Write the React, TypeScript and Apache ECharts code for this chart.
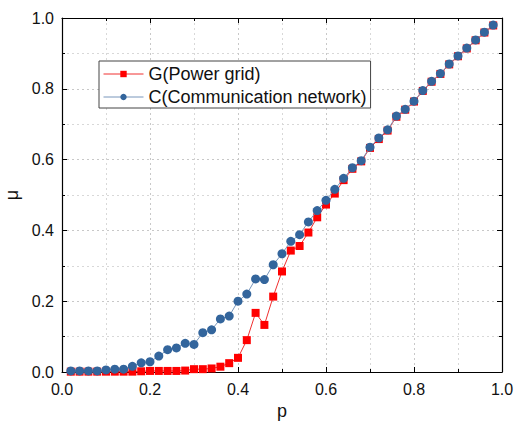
import React, { useEffect, useRef } from "react";
import * as echarts from "echarts";

const pValues = [
  0.02, 0.04, 0.06, 0.08, 0.1, 0.12, 0.14, 0.16, 0.18, 0.2,
  0.22, 0.24, 0.26, 0.28, 0.3, 0.32, 0.34, 0.36, 0.38, 0.4,
  0.42, 0.44, 0.46, 0.48, 0.5, 0.52, 0.54, 0.56, 0.58, 0.6,
  0.62, 0.64, 0.66, 0.68, 0.7, 0.72, 0.74, 0.76, 0.78, 0.8,
  0.82, 0.84, 0.86, 0.88, 0.9, 0.92, 0.94, 0.96, 0.98,
];

const gPowerGrid = [
  0.001, 0.001, 0.001, 0.001, 0.001, 0.001, 0.001, 0.001, 0.002, 0.003,
  0.003, 0.003, 0.003, 0.004, 0.008, 0.008, 0.01, 0.015, 0.025, 0.04,
  0.09, 0.167, 0.133, 0.213, 0.284, 0.343, 0.356, 0.394, 0.437, 0.473,
  0.504, 0.542, 0.574, 0.595, 0.633, 0.658, 0.682, 0.721, 0.741, 0.764,
  0.794, 0.82, 0.842, 0.869, 0.892, 0.914, 0.937, 0.959, 0.979,
];

const cCommunication = [
  0.003, 0.003, 0.003, 0.003, 0.006, 0.008, 0.008, 0.016, 0.026, 0.029,
  0.045, 0.063, 0.068, 0.081, 0.078, 0.111, 0.119, 0.15, 0.158, 0.2,
  0.22, 0.263, 0.261, 0.303, 0.334, 0.369, 0.388, 0.424, 0.456, 0.485,
  0.516, 0.547, 0.577, 0.597, 0.635, 0.661, 0.684, 0.723, 0.742, 0.765,
  0.795, 0.821, 0.843, 0.87, 0.893, 0.915, 0.938, 0.96, 0.98,
];

const seriesNames = ["G(Power grid)", "C(Communication network)"];

const FONT = "'Liberation Sans', Arial, sans-serif";

export default function App() {
  const ref = useRef<HTMLDivElement>(null);

  useEffect(() => {
    if (!ref.current) return;
    const chart = echarts.init(ref.current, undefined, { renderer: "svg" });

    const gridLine = { show: true, lineStyle: { color: "#c8c8c8", type: [2, 3], width: 1 } };
    const minorGrid = { show: true, lineStyle: { color: "#d8d8d8", type: [2, 3], width: 1 } };

    const baseAxis = {
      type: "value" as const,
      min: 0,
      max: 1,
      interval: 0.2,
      axisLine: { show: true, onZero: false, lineStyle: { color: "#000", width: 1.2 } },
      axisTick: { show: true, inside: true, length: 5, lineStyle: { color: "#000" } },
      minorTick: { show: true, splitNumber: 2, length: 3, lineStyle: { color: "#000" } },
    };

    chart.setOption({
      animation: false,
      backgroundColor: "#fff",
      textStyle: { fontFamily: FONT },
      grid: {
        left: 62,
        right: 14,
        top: 18,
        bottom: 52,
        containLabel: false,
        outerBoundsMode: "none",
      },
      legend: {
        orient: "vertical",
        left: 99,
        top: 61,
        data: seriesNames,
        itemWidth: 40,
        itemHeight: 8,
        itemGap: 5,
        padding: [4, 4, 2, 4],
        backgroundColor: "#fff",
        borderColor: "#444",
        borderWidth: 1,
        borderRadius: 0,
        lineStyle: { width: 1 },
        textStyle: { fontFamily: FONT, fontSize: 18, color: "#111" },
      },
      xAxis: [
        {
          ...baseAxis,
          position: "bottom",
          name: "p",
          nameLocation: "middle",
          nameGap: 27,
          nameTextStyle: { fontFamily: FONT, fontSize: 18, color: "#111" },
          axisLabel: {
            fontFamily: FONT,
            fontSize: 16,
            color: "#111",
            margin: 9,
            formatter: (v: number) => v.toFixed(1),
          },
          splitLine: gridLine,
          minorSplitLine: minorGrid,
        },
        {
          ...baseAxis,
          position: "top",
          axisLabel: { show: false },
          splitLine: { show: false },
        },
      ],
      yAxis: [
        {
          ...baseAxis,
          position: "left",
          name: "μ",
          nameLocation: "middle",
          nameGap: 40,
          nameRotate: 90,
          nameTextStyle: { fontFamily: FONT, fontSize: 18, color: "#111" },
          axisLabel: {
            fontFamily: FONT,
            fontSize: 16,
            color: "#111",
            margin: 8,
            formatter: (v: number) => v.toFixed(1),
          },
          splitLine: gridLine,
          minorSplitLine: minorGrid,
        },
        {
          ...baseAxis,
          position: "right",
          axisLabel: { show: false },
          splitLine: { show: false },
        },
      ],
      series: [
        {
          name: seriesNames[0],
          type: "line",
          data: pValues.map((p, i) => [p, gPowerGrid[i]]),
          symbol: "rect",
          symbolSize: 8,
          itemStyle: { color: "#ff0000" },
          lineStyle: { color: "#f03030", width: 1 },
          z: 2,
        },
        {
          name: seriesNames[1],
          type: "line",
          data: pValues.map((p, i) => [p, cCommunication[i]]),
          symbol: "circle",
          symbolSize: 9,
          itemStyle: { color: "#33659c" },
          lineStyle: { color: "#7896bb", width: 1 },
          z: 3,
        },
      ],
    });

    return () => chart.dispose();
  }, []);

  return (
    <div
      ref={ref}
      style={{ position: "fixed", left: 0, top: 0, width: 516, height: 424, background: "#fff" }}
    />
  );
}
